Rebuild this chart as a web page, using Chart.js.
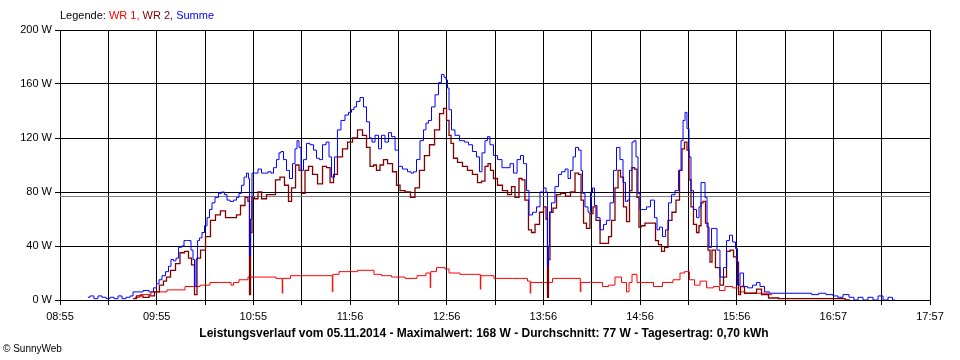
<!DOCTYPE html>
<html>
<head>
<meta charset="utf-8">
<script src="https://cdn.jsdelivr.net/npm/chart.js@4"></script>
<style>
  body { margin: 0; background: #fff; }
</style>
</head>
<body>
<canvas id="powerChart" width="960" height="360"></canvas>
<script>
// x axis: minutes after 08:55, the day spans 542 minutes (08:55 - 17:57)
const dayMinutes = 542;
const tickLabels = ['08:55', '09:55', '10:55', '11:56', '12:56', '13:56', '14:56', '15:56', '16:57', '17:57'];
const averageWatt = 77;

// Summe (blue)
const sumTime = [
  17.4, 19.9, 22.4, 24.9, 27.4, 29.9, 32.4, 34.9, 37.4, 39.9,
  42.4, 44.9, 46.1, 49.8, 53.6, 57.3, 59.2, 61.1, 62.3, 64.8,
  66.7, 68.5, 69.8, 71.6, 72.9, 74.8, 76.6, 77.9, 79.7, 81.0,
  82.2, 83.5, 84.1, 85.4, 86.0, 87.8, 89.1, 91.0, 92.2, 94.1,
  95.3, 97.8, 99.7, 101.5, 103.4, 104.7, 107.2, 109.0, 110.9, 112.1,
  114.0, 115.3, 117.1, 117.7, 118.4, 119.0, 120.2, 122.1, 124.6, 126.5,
  128.3, 130.8, 132.1, 133.9, 135.8, 137.1, 138.3, 140.2, 142.0, 143.9,
  145.8, 147.0, 148.3, 149.5, 150.8, 152.6, 154.5, 157.0, 158.9, 160.7,
  162.6, 164.5, 167.0, 168.2, 170.1, 171.9, 173.8, 176.3, 178.8, 180.7,
  182.5, 183.8, 185.7, 188.1, 190.0, 191.9, 193.8, 195.0, 197.5, 199.4,
  201.2, 203.7, 205.6, 207.5, 210.0, 211.8, 214.9, 218.1, 219.3, 221.2,
  223.0, 225.5, 227.4, 228.6, 230.5, 232.4, 234.9, 236.7, 238.6, 239.9,
  241.1, 241.7, 243.0, 244.8, 247.3, 250.4, 253.6, 255.4, 258.5, 260.4,
  262.3, 263.5, 266.0, 266.6, 269.1, 271.0, 274.1, 276.6, 279.1, 281.6,
  283.5, 286.0, 287.8, 289.7, 291.6, 292.8, 295.9, 297.8, 300.3, 302.2,
  303.4, 304.0, 304.6, 305.3, 307.1, 309.6, 311.5, 313.4, 315.9, 317.1,
  319.0, 320.2, 322.1, 324.0, 325.2, 325.8, 328.3, 329.6, 331.4, 332.1,
  333.9, 335.2, 337.7, 339.5, 341.4, 343.9, 345.8, 347.6, 350.1, 351.4,
  353.2, 353.9, 355.7, 357.0, 358.2, 359.5, 360.7, 362.0, 364.5, 366.3,
  369.4, 371.3, 372.6, 374.4, 376.3, 378.2, 380.0, 381.9, 384.4, 386.3,
  387.5, 388.8, 390.0, 391.2, 392.5, 393.7, 395.6, 397.5, 398.7, 400.0,
  401.2, 402.5, 403.7, 405.0, 406.8, 408.7, 409.9, 412.4, 414.3, 416.2,
  418.0, 419.9, 421.8, 422.4, 424.9, 426.8, 429.9, 433.0, 434.9, 437.3,
  440.5, 443.6, 448.6, 454.8, 461.0, 466.0, 470.4, 474.7, 479.7, 483.4,
  485.9, 489.7, 493.4, 495.9, 498.4, 502.1, 504.6, 508.4, 510.9, 514.6,
  517.1, 520.2
];
const sumWatt = [
  2, 3, 1, 3, 2, 1, 2, 1, 3, 1,
  2, 3, 6, 6, 7, 6, 9, 12, 15, 18,
  21, 25, 30, 29, 31, 39, 40, 44, 44, 44,
  37, 30, 10, 30, 44, 46, 50, 55, 61, 67,
  72, 76, 79, 80, 78, 74, 73, 74, 76, 79,
  85, 91, 94, 90, 33, 60, 94, 94, 97, 94,
  94, 95, 94, 98, 104, 109, 110, 104, 96, 90,
  101, 112, 118, 113, 96, 104, 116, 115, 111, 105,
  104, 115, 117, 106, 91, 106, 126, 133, 137, 139,
  141, 143, 147, 150, 143, 132, 120, 117, 122, 112,
  122, 117, 124, 121, 111, 99, 97, 95, 94, 95,
  104, 118, 126, 131, 133, 143, 152, 161, 167, 165,
  163, 157, 141, 126, 122, 118, 117, 115, 110, 106,
  95, 109, 118, 121, 115, 107, 104, 98, 98, 101,
  94, 104, 107, 101, 81, 63, 65, 69, 80, 83,
  80, 25, 40, 65, 72, 84, 93, 95, 97, 90,
  96, 106, 113, 111, 96, 79, 69, 65, 80, 83,
  70, 61, 52, 56, 59, 72, 96, 113, 104, 87,
  73, 74, 96, 117, 118, 106, 79, 67, 67, 69,
  74, 61, 52, 54, 47, 52, 72, 78, 81, 96,
  118, 133, 139, 127, 106, 81, 67, 61, 69, 87,
  87, 76, 54, 39, 53, 53, 37, 17, 24, 44,
  48, 43, 38, 11, 20, 10, 9, 11, 13, 10,
  6, 5, 5, 5, 5, 5, 4, 5, 4, 3,
  2, 4, 2, 0, 2, 0, 2, 0, 3, 0,
  2, 0
];

// WR 2 (dark red)
const wr2Time = [
  45.5, 49.8, 53.6, 57.3, 60.4, 63.5, 65.4, 67.3, 70.4, 73.5,
  76.0, 79.1, 81.0, 82.9, 84.7, 86.0, 89.1, 92.2, 95.3, 98.4,
  101.5, 104.7, 109.0, 110.9, 114.0, 116.5, 117.7, 118.4, 119.0, 120.2,
  122.1, 124.6, 126.5, 127.7, 129.6, 132.7, 135.8, 138.3, 141.4, 143.3,
  145.2, 148.3, 149.5, 151.4, 153.9, 155.8, 158.9, 162.0, 165.1, 167.0,
  169.5, 171.3, 174.4, 177.6, 180.7, 183.8, 186.9, 190.0, 191.9, 194.4,
  196.2, 198.1, 200.6, 202.5, 205.6, 208.7, 210.6, 213.1, 216.8, 219.9,
  222.4, 225.5, 228.6, 231.8, 234.9, 238.0, 239.9, 241.7, 243.0, 244.2,
  246.1, 249.2, 252.3, 255.4, 258.5, 261.7, 263.5, 266.0, 267.3, 269.1,
  271.0, 274.1, 277.2, 280.4, 282.2, 284.7, 287.2, 288.4, 290.9, 292.8,
  294.7, 297.2, 300.3, 302.2, 303.4, 304.0, 304.6, 305.9, 308.4, 310.3,
  313.4, 316.5, 319.6, 322.1, 324.0, 325.2, 327.1, 328.9, 331.4, 332.7,
  335.2, 337.7, 340.8, 342.7, 344.5, 347.0, 348.3, 350.1, 352.0, 353.9,
  355.7, 357.0, 358.8, 360.1, 361.3, 362.6, 366.3, 370.1, 371.9, 373.8,
  375.7, 377.5, 380.0, 382.5, 385.0, 386.9, 388.1, 390.0, 391.2, 392.5,
  393.7, 395.6, 397.5, 398.7, 400.0, 401.2, 403.1, 404.3, 405.6, 406.8,
  409.9, 412.4, 414.3, 416.2, 418.7, 420.5, 422.4, 423.0, 424.9, 428.0,
  433.0, 434.9, 439.2, 443.6, 451.7, 461.0, 473.5, 485.9, 492.2
];
const wr2Watt = [
  1, 3, 2, 3, 6, 11, 14, 17, 22, 27,
  35, 36, 31, 26, 4, 31, 37, 47, 59, 63,
  66, 61, 61, 63, 70, 76, 73, 4, 50, 76,
  75, 80, 75, 75, 78, 78, 89, 91, 85, 73,
  83, 100, 96, 79, 96, 99, 93, 86, 99, 98,
  87, 93, 106, 112, 117, 120, 126, 122, 113, 99,
  100, 96, 100, 104, 101, 95, 85, 81, 80, 76,
  83, 96, 107, 115, 126, 138, 142, 133, 122, 116,
  105, 102, 99, 96, 93, 87, 88, 99, 101, 96,
  90, 85, 81, 78, 84, 76, 90, 89, 74, 52,
  50, 56, 65, 69, 60, 2, 30, 65, 68, 78,
  79, 77, 80, 94, 93, 74, 57, 53, 64, 69,
  59, 42, 42, 47, 59, 83, 96, 91, 69, 58,
  81, 98, 97, 76, 54, 55, 57, 57, 44, 41,
  36, 39, 59, 65, 74, 96, 112, 117, 111, 89,
  69, 56, 50, 55, 72, 73, 57, 37, 28, 37,
  24, 11, 17, 36, 37, 32, 28, 4, 10, 5,
  5, 8, 4, 1.5, 1, 1, 1, 1, 0
];

// WR 1 (red)
const wr1Time = [
  46.7, 53.0, 60.4, 72.9, 82.9, 91.6, 95.3, 105.9, 107.2, 109.0,
  114.0, 120.2, 130.8, 138.3, 138.6, 138.9, 148.3, 162.0, 169.5, 169.8,
  170.1, 177.6, 193.1, 198.1, 202.5, 210.6, 219.3, 225.5, 230.5, 230.8,
  231.1, 238.0, 241.7, 243.0, 255.4, 261.7, 262.0, 262.3, 266.6, 274.1,
  289.7, 292.8, 293.1, 293.4, 302.2, 311.5, 324.0, 324.3, 324.6, 336.4,
  339.5, 343.9, 347.6, 352.0, 353.9, 355.1, 357.6, 361.3, 367.6, 371.9,
  378.8, 385.0, 387.5, 390.6, 393.7, 396.9, 400.6, 405.0, 409.3, 412.4,
  416.2, 421.8, 423.6, 429.9, 439.2, 443.6
];
const wr1Watt = [
  2, 4, 6, 7.5, 10, 11, 13, 13, 11, 13,
  15, 17, 17, 16, 5, 16, 18, 18, 18, 6,
  19, 21, 22, 19, 18, 17, 16, 18, 20, 9,
  21, 24, 23, 20, 19, 19, 8, 18, 18, 16,
  16, 14, 5, 13, 13, 16, 16, 6, 13, 13,
  10, 11, 17, 13, 6, 13, 19, 13, 13, 10,
  13, 15, 20, 21, 15, 11, 14, 9, 10, 7,
  10, 9, 6, 5, 5, 4
];

function toPoints(times, watts) {
  if (times.length !== watts.length) {
    throw new Error('length mismatch ' + times.length + ' vs ' + watts.length);
  }
  return times.map((t, i) => ({ x: t, y: watts[i] }));
}

const baseFont = "'Liberation Sans', Arial, sans-serif";

// grey average line, snapped to the pixel grid so it stays crisp
const averagePlugin = {
  id: 'averageLine',
  beforeDatasetsDraw(chart) {
    const ctx = chart.ctx;
    const area = chart.chartArea;
    const y = Math.round(chart.scales.y.getPixelForValue(averageWatt)) + 0.5;
    ctx.save();
    ctx.strokeStyle = '#808080';
    ctx.lineWidth = 1;
    ctx.beginPath();
    ctx.moveTo(area.left, y);
    ctx.lineTo(area.right, y);
    ctx.stroke();
    ctx.restore();
  }
};

// legend on top, title and copyright at the bottom
const textPlugin = {
  id: 'sunnyText',
  afterDraw(chart) {
    const ctx = chart.ctx;
    ctx.save();
    ctx.textBaseline = 'middle';
    ctx.font = '11px ' + baseFont;
    let x = 60;
    const parts = [
      ['Legende: ', '#000000'],
      ['WR 1, ', '#ff0000'],
      ['WR 2, ', '#800000'],
      ['Summe', '#0000ff']
    ];
    parts.forEach(p => {
      ctx.fillStyle = p[1];
      ctx.fillText(p[0], x, 16);
      x += ctx.measureText(p[0]).width;
    });

    ctx.fillStyle = '#000';
    ctx.font = 'bold 12px ' + baseFont;
    ctx.textAlign = 'center';
    ctx.fillText('Leistungsverlauf vom 05.11.2014 - Maximalwert: 168 W - Durchschnitt: 77 W - Tagesertrag: 0,70 kWh', 484, 334);

    ctx.textAlign = 'left';
    ctx.font = '10px ' + baseFont;
    ctx.fillText('\u00A9 SunnyWeb', 3, 349);
    ctx.restore();
  }
};

const ctx = document.getElementById('powerChart').getContext('2d');
const chart = new Chart(ctx, {
  type: 'line',
  data: {
    datasets: [
      {
        label: 'Summe',
        data: toPoints(sumTime, sumWatt),
        borderColor: '#0000ff',
        borderWidth: 1
      },
      {
        label: 'WR 2',
        data: toPoints(wr2Time, wr2Watt),
        borderColor: '#800000',
        borderWidth: 1.3
      },
      {
        label: 'WR 1',
        data: toPoints(wr1Time, wr1Watt),
        borderColor: '#ff0000',
        borderWidth: 1
      }
    ]
  },
  options: {
    responsive: false,
    animation: false,
    devicePixelRatio: 1,
    elements: {
      point: { radius: 0 },
      line: { tension: 0, fill: false, stepped: 'middle' }
    },
    layout: {
      padding: { top: 30, right: 30, left: 0, bottom: 0 }
    },
    plugins: {
      legend: { display: false },
      title: { display: false },
      tooltip: { enabled: false }
    },
    scales: {
      x: {
        type: 'linear',
        min: 0,
        max: dayMinutes,
        afterBuildTicks: scale => {
          scale.ticks = [];
          for (let i = 0; i <= 18; i++) {
            scale.ticks.push({ value: i * dayMinutes / 18 });
          }
        },
        afterFit: scale => { scale.height = 60; },
        grid: { color: '#000', lineWidth: 1, tickLength: 5 },
        border: { color: '#000' },
        ticks: {
          autoSkip: false,
          maxRotation: 0,
          padding: 5,
          color: '#000',
          font: { family: baseFont, size: 11 },
          callback: (value, index) => index % 2 === 0 ? tickLabels[index / 2] : ''
        }
      },
      y: {
        min: 0,
        max: 200,
        afterFit: scale => { scale.width = 60; },
        grid: { color: '#000', lineWidth: 1, tickLength: 5 },
        border: { color: '#000' },
        ticks: {
          stepSize: 40,
          padding: 3,
          color: '#000',
          font: { family: baseFont, size: 11 },
          callback: value => value + ' W'
        }
      }
    }
  },
  plugins: [averagePlugin, textPlugin]
});
</script>
</body>
</html>
